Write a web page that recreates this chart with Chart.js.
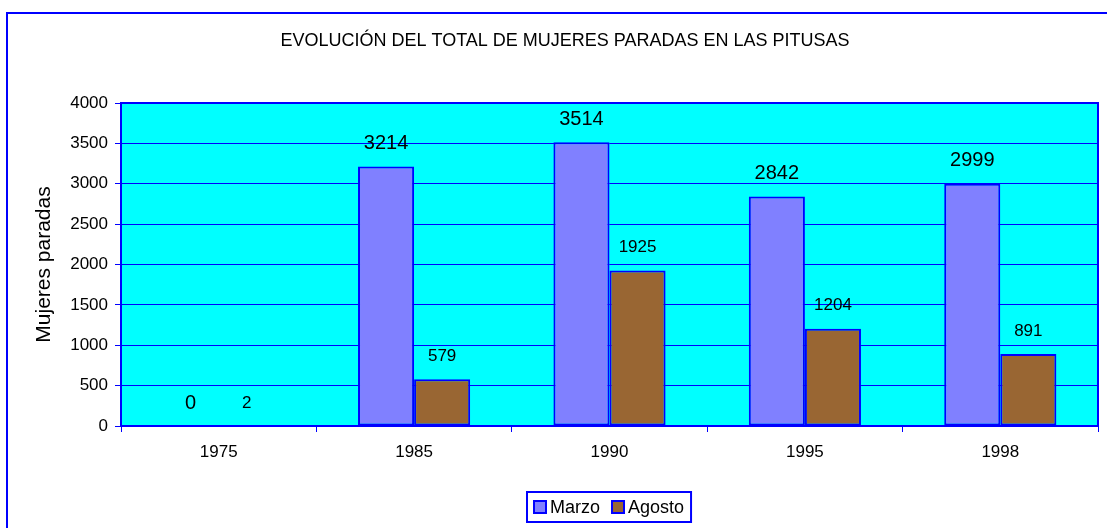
<!DOCTYPE html>
<html>
<head>
<meta charset="utf-8">
<script src="https://cdn.jsdelivr.net/npm/chart.js@4.4.1/dist/chart.umd.min.js"></script>
<style>
  html, body { margin: 0; padding: 0; background: #fff; }
  canvas { display: block; }
</style>
</head>
<body>
<canvas id="chart" width="1107" height="528"></canvas>
<script>
// datos
const years = ['1975', '1985', '1990', '1995', '1998'];
const marzo = [0, 3214, 3514, 2842, 2999];
const agosto = [2, 579, 1925, 1204, 891];
const titleText = 'EVOLUCIÓN DEL TOTAL DE MUJERES PARADAS EN LAS PITUSAS';
const yTitle = 'Mujeres paradas';

const FONT = 'Arial, "Liberation Sans", sans-serif';
const BLUE = '#0000ff';

// fondo, borde exterior, título, etiquetas y leyenda
const decor = {
  id: 'decor',
  beforeDraw(chart) {
    const { ctx, chartArea: a } = chart;
    ctx.save();
    ctx.fillStyle = '#fff';
    ctx.fillRect(0, 0, chart.width, chart.height);
    ctx.strokeStyle = BLUE;
    ctx.lineWidth = 2;
    ctx.strokeRect(7, 13, chart.width + 20, chart.height + 20);
    ctx.fillStyle = '#00ffff';
    ctx.fillRect(a.left, a.top, a.right - a.left, a.bottom - a.top);
    ctx.fillStyle = '#000';
    ctx.font = '18px ' + FONT;
    ctx.textAlign = 'center';
    ctx.textBaseline = 'middle';
    ctx.fillText(titleText, 565, 41);
    ctx.restore();
  },
  afterDatasetsDraw(chart) {
    const { ctx, chartArea: a } = chart;
    ctx.save();
    ctx.strokeStyle = BLUE;
    ctx.lineWidth = 2;
    ctx.strokeRect(a.left, a.top, a.right - a.left, a.bottom - a.top);

    ctx.fillStyle = '#000';
    ctx.textAlign = 'center';
    ctx.textBaseline = 'middle';
    chart.data.datasets.forEach((ds, di) => {
      const meta = chart.getDatasetMeta(di);
      ctx.font = (di === 0 ? '20px ' : '17px ') + FONT;
      meta.data.forEach((bar, i) => {
        ctx.fillText(String(ds.data[i]), bar.x, bar.y - 23);
      });
    });

    // leyenda
    ctx.font = '18px ' + FONT;
    ctx.textAlign = 'left';
    const items = chart.data.datasets.map(ds => ({
      label: ds.label, color: ds.backgroundColor, w: ctx.measureText(ds.label).width
    }));
    const box = 12, gapBox = 4, gapItem = 12, pad = 7;
    let total = pad * 2;
    items.forEach((it, i) => { total += box + gapBox + it.w + (i ? gapItem : 0); });
    const cx = (a.left + a.right) / 2;
    let x = Math.round(cx - total / 2);
    const top = 492, h = 30;
    ctx.lineWidth = 2;
    ctx.strokeStyle = BLUE;
    ctx.strokeRect(x, top, total, h);
    x += pad;
    const my = top + h / 2;
    items.forEach((it, i) => {
      if (i) x += gapItem;
      ctx.fillStyle = it.color;
      ctx.fillRect(x, my - box / 2, box, box);
      ctx.strokeRect(x, my - box / 2, box, box);
      x += box + gapBox;
      ctx.fillStyle = '#000';
      ctx.fillText(it.label, x, my + 1);
      x += it.w;
    });
    ctx.restore();
  }
};

new Chart(document.getElementById('chart'), {
  type: 'bar',
  data: {
    labels: years,
    datasets: [
      {
        label: 'Marzo',
        data: marzo,
        backgroundColor: '#8080ff',
        borderColor: BLUE,
        borderWidth: 2,
        borderSkipped: false,
        categoryPercentage: 0.574,
        barPercentage: 1,
      },
      {
        label: 'Agosto',
        data: agosto,
        backgroundColor: '#996633',
        borderColor: BLUE,
        borderWidth: 2,
        borderSkipped: false,
        categoryPercentage: 0.574,
        barPercentage: 1,
      },
    ],
  },
  options: {
    responsive: false,
    animation: false,
    devicePixelRatio: 1,
    layout: { padding: { top: 103, left: 0, right: 9, bottom: 0 } },
    plugins: {
      legend: { display: false },
      tooltip: { enabled: false },
    },
    scales: {
      x: {
        grid: { display: true, drawOnChartArea: false, drawTicks: true, tickLength: 6, color: BLUE, offset: true },
        border: { display: false },
        ticks: { color: '#000', font: { family: FONT, size: 17 }, padding: 10, maxRotation: 0 },
        afterFit(scale) { scale.height = 102; },
      },
      y: {
        min: 0,
        max: 4000,
        ticks: {
          stepSize: 500, color: '#000', font: { family: FONT, size: 17 }, padding: 7,
          callback: v => String(v),
        },
        grid: { color: BLUE, lineWidth: 1, tickLength: 6 },
        border: { display: false },
        title: {
          display: true,
          text: yTitle,
          color: '#000',
          font: { family: FONT, size: 21 },
          padding: { top: 32, bottom: 0 },
        },
        afterFit(scale) { scale.width = 121; },
      },
    },
  },
  plugins: [decor],
});
</script>
</body>
</html>
